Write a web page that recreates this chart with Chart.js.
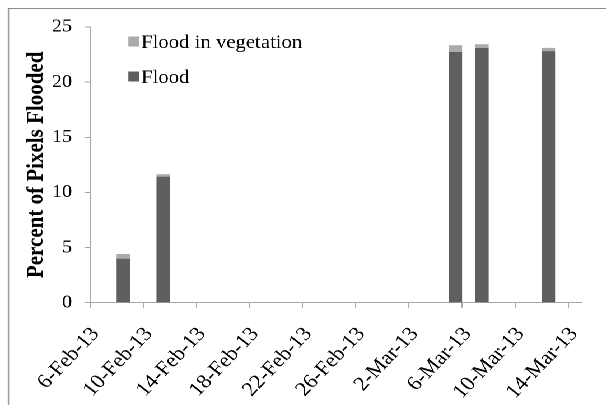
<!DOCTYPE html>
<html>
<head>
<meta charset="utf-8">
<script src="https://cdn.jsdelivr.net/npm/chart.js@4.4.0/dist/chart.umd.min.js"></script>
<style>
  html, body { margin: 0; padding: 0; background: #fff; overflow: hidden; }
  /* the source picture is stretched sideways a little, so is this */
  #stage { position: relative; width: 541px; height: 405px; transform: scaleX(1.12); transform-origin: 0 0; }
  #frame { position: absolute; left: 6.5px; top: 8px; width: 600px; height: 420px; border-left: 1px solid #8c8c8c; border-top: 1px solid #8c8c8c; }
  #box { position: absolute; left: 0; top: 0; width: 541px; height: 405px; }
</style>
</head>
<body>
<div id="stage">
  <div id="frame"></div>
  <div id="box"><canvas id="floodChart"></canvas></div>
</div>
<script>
const startDate = "6-Feb-13";
const endDate = "15-Mar-13";
const tickLabels = ["6-Feb-13", "10-Feb-13", "14-Feb-13", "18-Feb-13", "22-Feb-13",
  "26-Feb-13", "2-Mar-13", "6-Mar-13", "10-Mar-13", "14-Mar-13"];
const imageDates = ["8-Feb-13", "11-Feb-13", "5-Mar-13", "7-Mar-13", "12-Mar-13"];
const flood = [4.0, 11.43, 22.75, 23.11, 22.81];
const floodInVegetation = [0.42, 0.22, 0.6, 0.33, 0.3];

const months = { Jan: 0, Feb: 1, Mar: 2, Apr: 3, May: 4, Jun: 5, Jul: 6, Aug: 7, Sep: 8, Oct: 9, Nov: 10, Dec: 11 };
function toUTC(label) {
  const [d, m, y] = label.split("-");
  return Date.UTC(2000 + Number(y), months[m], Number(d));
}
// days since the first tick
function dayIndex(label) {
  return Math.round((toUTC(label) - toUTC(startDate)) / 86400000);
}

// a column covers its whole day, so it sits at the middle of it
const points = (values) => values.map((v, i) => ({ x: dayIndex(imageDates[i]) + 0.5, y: v }));

const serif = "'Liberation Serif', 'Times New Roman', serif";
const axisGrey = "#a6a6a6";

const legendInside = {
  id: "legendInside",
  afterDraw(chart) {
    const ctx = chart.ctx;
    const items = chart.data.datasets.slice().reverse();
    ctx.save();
    ctx.font = "18.5px " + serif;
    ctx.textBaseline = "alphabetic";
    items.forEach((ds, i) => {
      const top = 36.5 + i * 35;
      ctx.fillStyle = ds.backgroundColor;
      ctx.fillRect(114.6, top, 9.6, 10);
      ctx.fillStyle = "#000";
      ctx.fillText(ds.label, 126, top + 11.5);
    });
    ctx.restore();
  },
};

new Chart(document.getElementById("floodChart"), {
  type: "bar",
  data: {
    datasets: [
      {
        label: "Flood",
        data: points(flood),
        backgroundColor: "#5f5f5f",
        borderWidth: 0,
        barPercentage: 0.5,
        categoryPercentage: 1,
      },
      {
        label: "Flood in vegetation",
        data: points(floodInVegetation),
        backgroundColor: "#ababab",
        borderWidth: 0,
        barPercentage: 0.5,
        categoryPercentage: 1,
      },
    ],
  },
  options: {
    responsive: true,
    maintainAspectRatio: false,
    animation: false,
    devicePixelRatio: 2,
    layout: { padding: { top: 27, right: 15, left: 0, bottom: 0 } },
    plugins: {
      legend: { display: false },
      tooltip: { enabled: false },
    },
    scales: {
      x: {
        type: "linear",
        stacked: true,
        offset: false,
        min: 0,
        max: dayIndex(endDate),
        afterBuildTicks: (scale) => {
          scale.ticks = tickLabels.map((l) => ({ value: dayIndex(l) }));
        },
        afterFit: (scale) => { scale.height = 102.3; },
        ticks: {
          autoSkip: false,
          minRotation: 49,
          maxRotation: 49,
          padding: 15,
          labelOffset: 5,
          color: "#000",
          font: { family: serif, size: 20 },
          callback: (value, index) => tickLabels[index],
        },
        grid: {
          offset: false,
          drawOnChartArea: false,
          drawTicks: true,
          tickLength: 5,
          color: axisGrey,
        },
        border: { color: axisGrey },
      },
      y: {
        stacked: true,
        min: 0,
        max: 25,
        afterFit: (scale) => { scale.width = 80.4; },
        ticks: {
          stepSize: 5,
          padding: 11,
          color: "#000",
          font: { family: serif, size: 18 },
        },
        grid: {
          drawOnChartArea: false,
          drawTicks: true,
          tickLength: 5,
          color: axisGrey,
        },
        border: { color: axisGrey },
        title: {
          display: true,
          text: "Percent of Pixels Flooded",
          color: "#000",
          padding: { top: 20, bottom: 0 },
          font: { family: serif, size: 21, weight: "bold" },
        },
      },
    },
  },
  plugins: [legendInside],
});
</script>
</body>
</html>
